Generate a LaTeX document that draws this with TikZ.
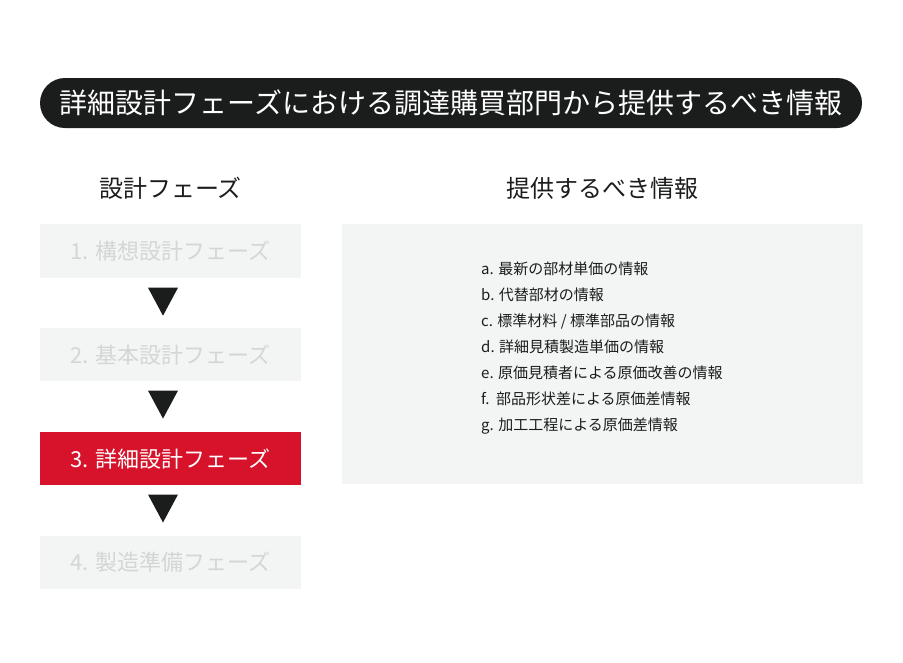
\documentclass[tikz,border=0pt]{standalone}
\usepackage{fontspec}
\setmainfont{Noto Sans CJK JP}
\usetikzlibrary{positioning,calc}
\definecolor{barblack}{HTML}{1B1C1C}
\definecolor{panelgray}{HTML}{F3F4F4}
\definecolor{dimtext}{HTML}{D4D5D5}
\definecolor{phasered}{HTML}{D6132A}
\tikzset{
  phase/.style={fill=panelgray, text=dimtext, minimum width=261pt, minimum height=53.5pt,
    inner sep=0pt, font=\fontsize{22}{22}\selectfont},
  phasenow/.style={phase, fill=phasered, text=white},
  heading/.style={text=barblack, inner sep=0pt, font=\fontsize{24}{24}\selectfont},
  downtri/.style={fill=barblack}
}
\begin{document}
\begin{tikzpicture}[x=1pt,y=1pt]
  \useasboundingbox (0,0) rectangle (903,-662);
  \node[fill=barblack, text=white, rounded corners=25pt, minimum width=822pt, minimum height=50pt,
    inner sep=0pt, font=\fontsize{28}{28}\selectfont] (title) at (451,-103) {詳細設計フェーズにおける調達購買部門から提供するべき情報};
  \node[heading] (phasehead) at (170.5,-188) {設計フェーズ};
  \node[heading] (infohead) at (602.5,-188) {提供するべき情報};
  \node[phase] (p1) at (170.5,-250.75) {1. 構想設計フェーズ};
  \node[phase, below=50pt of p1] (p2) {2. 基本設計フェーズ};
  \node[phasenow, below=50pt of p2] (p3) {3. 詳細設計フェーズ};
  \node[phase, below=50pt of p3] (p4) {4. 製造準備フェーズ};
  \fill[downtri] ($(p1.south)+(-22.5,-10)$) -- ++(30,0) -- ++(-15,-28) -- cycle;
  \fill[downtri] ($(p2.south)+(-22.5,-9)$) -- ++(30,0) -- ++(-15,-28) -- cycle;
  \fill[downtri] ($(p3.south)+(-22.5,-9)$) -- ++(30,0) -- ++(-15,-28) -- cycle;
  \node[fill=panelgray, minimum width=521pt, minimum height=260pt, inner sep=0pt] (panel) at (602.5,-354) {};
  \node[anchor=north west, align=left, inner sep=0pt, text=barblack,
    font=\fontsize{15}{26}\selectfont] (infolist) at (481,-262) {a. 最新の部材単価の情報\\
b. 代替部材の情報\\
c. 標準材料 / 標準部品の情報\\
d. 詳細見積製造単価の情報\\
e. 原価見積者による原価改善の情報\\
f.\ \ 部品形状差による原価差情報\\
g. 加工工程による原価差情報};
\end{tikzpicture}
\end{document}
